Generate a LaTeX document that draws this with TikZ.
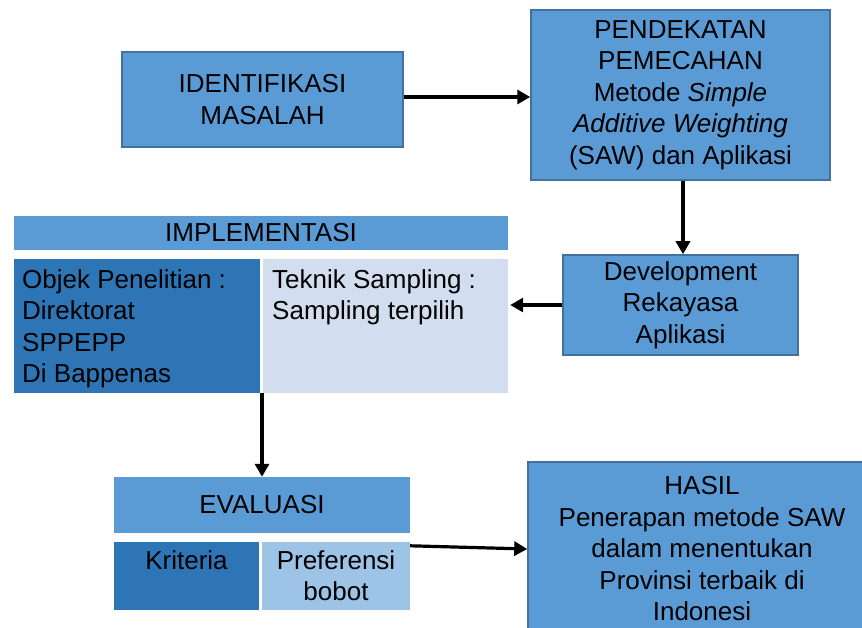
\documentclass[tikz,border=0pt]{standalone}
\usepackage{fontspec}
\setmainfont{Liberation Sans}
\usetikzlibrary{arrows.meta}
\definecolor{biru}{HTML}{5B9BD5}
\definecolor{birutua}{HTML}{2E75B6}
\definecolor{birumuda}{HTML}{D2DEEF}
\definecolor{birusedang}{HTML}{9DC3E6}
\definecolor{garis}{HTML}{41719C}
\tikzset{
  kotak/.style={draw=garis, fill=biru, line width=1.5pt, align=center, inner sep=0pt},
  judul/.style={fill=biru, inner sep=0pt},
  sel/.style={inner sep=0pt},
  teks/.style={inner sep=0pt, align=left, anchor=north west},
  panah/.style={-{Triangle[length=13pt,width=14pt]}, line width=3.2pt}
}

\begin{document}
\begin{tikzpicture}[x=1pt,y=-1pt,font=\fontsize{26}{31.5}\selectfont]
        \useasboundingbox (0,0) rectangle (862,628);
        \clip (0,0) rectangle (862,628);
        \node[kotak, minimum width=281, minimum height=95] (identifikasi) at (262.5,99.5) {IDENTIFIKASI\\MASALAH};
        \node[kotak, minimum width=299, minimum height=170] (pendekatan) at (680.5,95) {PENDEKATAN\\PEMECAHAN\\Metode \textit{Simple}\\\textit{Additive Weighting}\\(SAW) dan Aplikasi};
        \node[kotak, minimum width=235, minimum height=100] (development) at (680.5,305) {Development\\Rekayasa\\Aplikasi};
        \node[judul, minimum width=494, minimum height=34] (implementasi) at (261,233) {IMPLEMENTASI};
        \node[sel, fill=birutua, minimum width=246, minimum height=134] (objek) at (137,326) {};
        \node[sel, fill=birumuda, minimum width=245, minimum height=134] (teknik) at (385.5,326) {};
        \node[teks] (objek_teks) at (22,269) {Objek Penelitian :\\Direktorat\\SPPEPP\\Di Bappenas};
        \node[teks] (teknik_teks) at (272,269) {Teknik Sampling :\\Sampling terpilih};
        \node[judul, minimum width=296, minimum height=56] (evaluasi) at (262,505) {EVALUASI};
        \node[sel, fill=birutua, minimum width=145, minimum height=68] (kriteria) at (186.5,576) {};
        \node[sel, fill=birusedang, minimum width=148, minimum height=68] (preferensi) at (336,576) {};
        \node[sel] (kriteria_teks) at (186.5,560) {Kriteria};
        \node[sel, align=center, anchor=north] (preferensi_teks) at (336,550) {Preferensi\\bobot};
        \node[kotak, minimum width=348, minimum height=174] (hasil) at (702,549) {HASIL\\Penerapan metode SAW\\dalam menentukan\\Provinsi terbaik di\\Indonesi};
        \draw[panah] (identifikasi.east |- 0,97) -- (pendekatan.west |- 0,97);
        \draw[panah] (pendekatan.south -| 683,0) -- (development.north -| 683,0);
        \draw[panah] (development.west) -- ([xshift=2]development.west -| teknik.east);
        \draw[panah] (evaluasi.north |- objek.south) -- (evaluasi.north);
        \draw[panah] ([yshift=-4]preferensi.north east) -- (hasil.west);
\end{tikzpicture}
\end{document}
